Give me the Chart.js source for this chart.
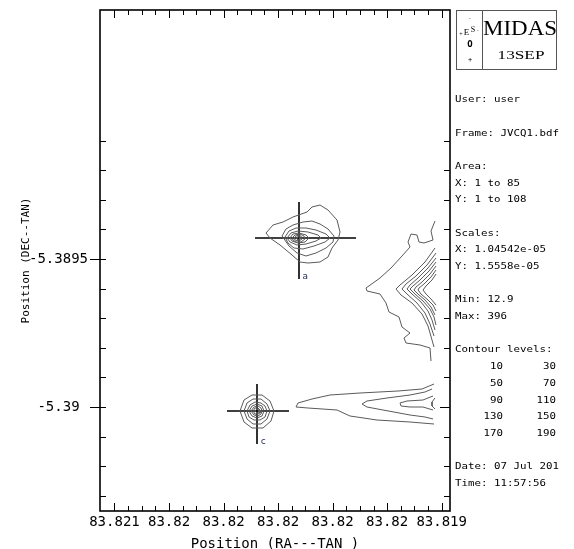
<!DOCTYPE html>
<html>
<head>
<meta charset="utf-8">
<script src="https://cdn.jsdelivr.net/npm/chart.js@4.4.1/dist/chart.umd.min.js"></script>
<style>
html,body{margin:0;padding:0;background:#fff;}
canvas{display:block;}
</style>
</head>
<body>
<canvas id="c" width="574" height="549" style="width:574px;height:549px"></canvas>
<script>
// ---- Axis ticks (frame grid units) and their labels ----
const xMajorTicks = [3.62, 17.26, 30.89, 44.52, 58.16, 71.79, 85.42];
const xTickLabels = ['83.821', '83.82', '83.82', '83.82', '83.82', '83.82', '83.819'];
const xMinorTicks = [7.03, 10.44, 13.85, 20.67, 24.08, 27.49, 34.30, 37.71, 41.12,
                     47.93, 51.34, 54.75, 61.57, 64.98, 68.39, 75.20, 78.61, 82.02];
const yMajorTicks = [26.0, 63.0];
const yTickLabels = ['-5.39', '-5.3895'];
const yMinorTicks = [3.8, 11.2, 18.6, 33.4, 40.8, 48.2, 55.6, 70.4, 77.8, 85.2, 92.6];

// ---- Source "a" contours ----
const contourA1 = [[41.5,69.5],[43.25,71.5],[45.75,72.25],[48.25,73.5],[51.75,74.75],[53,76],[55,76.5],[57,75.25],[59.25,72.75],[60,69.75],[59.5,67.75],[58,65.75],[57,63.5],[55,62.25],[52,62],[50,62.25],[48,64],[45,66.5],[42.5,68.25],[41.5,69.5]];
const contourA2 = [[45.5,68.75],[46.5,70.5],[48.25,71.5],[50.75,72.25],[53,72.5],[55,71.75],[57,70.5],[58.5,68.75],[58.25,67.25],[56.5,65.75],[54,64.5],[51.5,63.75],[49.25,64.5],[47.25,66.25],[45.5,68.75]];
const contourA3 = [[46.25,68.5],[47.25,70],[49,70.75],[51.5,70.75],[54,70.25],[56.5,69.25],[57.5,68.25],[56.25,67.25],[53.5,66.25],[50.75,65.5],[48.5,65.75],[47,67],[46.25,68.5]];
const contourA4 = [[46.75,68.25],[47.75,69.5],[49.5,70],[52,69.75],[54.5,69],[55.25,68.25],[54,67.5],[51.5,66.75],[49.25,66.5],[47.5,67.25],[46.75,68.25]];
const contourA5 = [[47.5,68.25],[48.25,69.25],[49.75,69.5],[51.5,69],[52.25,68.25],[51.25,67.25],[49.5,67],[48,67.5],[47.5,68.25]];
const contourA6 = [[48,68.25],[48.75,69],[50,69.25],[51,68.75],[51.25,68],[50.25,67.25],[49,67.25],[48.25,67.75],[48,68.25]];
const contourA7 = [[48.5,68.25],[49.25,68.9],[50.25,68.75],[50.5,68],[49.75,67.5],[48.75,67.75],[48.5,68.25]];
const contourA8 = [[49,68.25],[49.5,68.6],[50,68.4],[50,68],[49.5,67.75],[49,68.25]];

// ---- Source "c" contours ----
const contourC1 = [[35,25],[36,27.75],[38,29],[40.5,29],[42.5,27.5],[43.5,25],[42.75,22.5],[40.75,20.75],[38,20.75],[36,22.25],[35,25]];
const contourC2 = [[36,25],[36.75,27],[38.25,28],[40.25,28],[41.75,26.75],[42.5,25],[41.75,23],[40.25,21.75],[38.25,21.75],[36.75,23],[36,25]];
const contourC3 = [[36.75,25],[37.5,26.5],[38.75,27.25],[40.25,27],[41.25,26.25],[41.75,25],[41.25,23.5],[40,22.75],[38.5,22.75],[37.25,23.5],[36.75,25]];
const contourC4 = [[37.25,25],[38,26.25],[39.25,26.75],[40.5,26.25],[41,25],[40.5,23.75],[39.25,23.25],[38,23.75],[37.25,25]];
const contourC5 = [[37.75,25],[38.5,26],[39.5,26.25],[40.25,25.75],[40.5,25],[40.25,24.25],[39.5,23.75],[38.5,24],[37.75,25]];
const contourC6 = [[38.25,25],[38.75,25.75],[39.5,25.75],[40,25.25],[40,24.5],[39.5,24.25],[38.75,24.25],[38.25,25]];
const contourC7 = [[38.75,25],[39.25,25.5],[39.75,25.25],[39.75,24.75],[39.25,24.5],[38.75,25]];

// ---- Bright ridge at the right edge ----
const ridgeOuter = [[83.75,72.5],[82.75,70],[83.25,67.75],[81,67],[79.75,67.25],[79.25,69],[77.75,69.25],[77,67.25],[77.5,66],[75.5,63.75],[72.75,60.75],[70,58.25],[66.5,55.75],[66.75,55],[70,54.25],[71.5,52],[72.25,49.75],[74.75,48.5],[75.5,46],[77.5,44.5],[76,43.25],[76.5,42],[80,41.5],[82.5,40.75],[82.75,37.5]];
const ridgeV1 = [[83.75,65.75],[81.25,62.25],[78,59],[75,56.5],[74,55.5],[75.25,54],[78,52],[80.5,49.25],[82,46.25],[83,42.75],[83.5,41]];
const ridgeV2 = [[84,64.5],[81.75,61.5],[79,58.75],[76.5,56.75],[75.5,55.5],[76.75,54.25],[79.25,52],[81.25,49.5],[82.5,46.75],[83.5,43.75]];
const ridgeV3 = [[84,63.25],[82,60.75],[79.5,58.25],[77.5,56.5],[76.75,55.5],[78,54.25],[80.25,52.25],[82,50],[83,47.75],[83.75,45.25]];
const ridgeV4 = [[84,62.25],[82.25,60],[80,57.75],[78.25,56.25],[77.5,55.5],[78.75,54.25],[80.75,52.5],[82.5,50.5],[83.5,48.5],[84,46.5]];
const ridgeV5 = [[84,61.25],[82.5,59.25],[80.5,57.25],[79,56],[78.5,55.25],[79.5,54.25],[81.25,52.75],[82.75,51],[83.75,49]];
const ridgeV6 = [[84,60.25],[82.75,58.5],[81,56.75],[79.75,55.75],[79.5,55.25],[80.25,54.25],[82,52.75],[83.25,51.5],[84,50]];
const ridgeV7 = [[84,59.25],[83,57.75],[81.5,56.25],[80.75,55.25],[81.5,54.25],[82.75,53],[84,51.5]];

// ---- Horizontal tail at the bottom ----
const tailH1 = [[83.5,31.75],[80.5,30.5],[74.5,30],[65,29.5],[57.5,29],[53,28],[49.5,27],[49,26],[52,25.75],[59.25,25.25],[62.5,23.75],[69.25,22.75],[77.5,22.25],[83.5,21.75]];
const tailH2 = [[83,30.5],[81.25,29.75],[77.5,29],[71.75,28.25],[66.75,27.5],[65.5,26.75],[66.75,26],[70.75,25.25],[77.5,24],[81.25,23.5],[83.25,23]];
const tailH3 = [[83.25,28.75],[80.75,27.75],[76.75,27.5],[75,27],[75.25,26.25],[77.5,26],[80.75,26],[83.25,25.25]];
const tailH4 = [[83.75,28.25],[83,27.25],[83,26.25],[83.75,25.5]];

// ---- Cross markers and their names ----
const crossAH = [[38.75,68.25],[64,68.25]];
const crossAV = [[49.75,77.25],[49.75,58]];
const crossCH = [[31.75,25],[47.25,25]];
const crossCV = [[39.25,31.75],[39.25,16.75]];
const markerNames = ['a', 'c'];
const markerX = [50.6, 40.1];
const markerY = [58.6, 17.3];

// ---- Info panel ----
const infoLines = ['User: user', 'Frame: JVCQ1.bdf', 'Area:', 'X: 1 to 85', 'Y: 1 to 108',
                   'Scales:', 'X: 1.04542e-05', 'Y: 1.5558e-05', 'Min: 12.9', 'Max: 396', 'Contour levels:'];
const contourLevels = [10, 30, 50, 70, 90, 110, 130, 150, 170, 190];
const footerLines = ['Date: 07 Jul 201', 'Time: 11:57:56'];

const contours = [contourA1, contourA2, contourA3, contourA4, contourA5, contourA6, contourA7, contourA8,
                  contourC1, contourC2, contourC3, contourC4, contourC5, contourC6, contourC7,
                  ridgeOuter, ridgeV1, ridgeV2, ridgeV3, ridgeV4, ridgeV5, ridgeV6, ridgeV7,
                  tailH1, tailH2, tailH3, tailH4];
const crosses = [crossAH, crossAV, crossCH, crossCV];

const toPts = arr => arr.map(p => ({x: p[0], y: p[1]}));
const datasets = [];
contours.forEach(c => datasets.push({data: toPts(c), showLine: true, borderColor: '#5a5a5a', borderWidth: 1, pointRadius: 0, tension: 0, fill: false}));
crosses.forEach(c => datasets.push({data: toPts(c), showLine: true, borderColor: '#000', borderWidth: 1.6, pointRadius: 0, tension: 0, fill: false}));

const MONO = '"DejaVu Sans Mono", "Liberation Mono", monospace';
const SERIF = '"Liberation Serif", "DejaVu Serif", serif';

function wideText(ctx, str, x, y, align, size, charW, family) {
  ctx.save();
  ctx.font = size + 'px ' + family;
  const w = ctx.measureText('M').width;
  ctx.translate(x, y);
  ctx.scale(charW / w, 1);
  ctx.textAlign = align;
  ctx.textBaseline = 'middle';
  ctx.fillStyle = '#000';
  ctx.fillText(str, 0, 0);
  ctx.restore();
}
function fitText(ctx, str, cx, cy, size, targetW, family) {
  ctx.save();
  ctx.font = size + 'px ' + family;
  const w = ctx.measureText(str).width;
  ctx.translate(cx, cy);
  ctx.scale(targetW / w, 1);
  ctx.textAlign = 'center';
  ctx.textBaseline = 'middle';
  ctx.fillStyle = '#000';
  ctx.fillText(str, 0, 0);
  ctx.restore();
}

const framePlugin = {
  id: 'midasFrame',
  afterDraw(chart) {
    const ctx = chart.ctx, a = chart.chartArea, xs = chart.scales.x, ys = chart.scales.y;
    ctx.save();
    // frame
    ctx.strokeStyle = '#000';
    ctx.lineWidth = 1.6;
    ctx.strokeRect(a.left, a.top, a.right - a.left, a.bottom - a.top);
    ctx.lineWidth = 1;
    const seg = (x1, y1, x2, y2) => { ctx.beginPath(); ctx.moveTo(x1, y1); ctx.lineTo(x2, y2); ctx.stroke(); };
    xMinorTicks.forEach(v => { const p = Math.round(xs.getPixelForValue(v)) + 0.5; seg(p, a.bottom, p, a.bottom - 5); seg(p, a.top, p, a.top + 5); });
    xMajorTicks.forEach(v => { const p = Math.round(xs.getPixelForValue(v)) + 0.5; seg(p, a.bottom, p, a.bottom - 8); seg(p, a.top, p, a.top + 8); });
    yMinorTicks.forEach(v => { const p = Math.round(ys.getPixelForValue(v)) + 0.5; seg(a.left, p, a.left + 6, p); seg(a.right, p, a.right - 6, p); });
    yMajorTicks.forEach(v => { const p = Math.round(ys.getPixelForValue(v)) + 0.5; seg(a.left - 10, p, a.left + 6, p); seg(a.right, p, a.right - 10, p); });

    // marker names
    ctx.fillStyle = '#1c2a5a';
    ctx.font = '9px ' + MONO;
    ctx.textAlign = 'left';
    ctx.textBaseline = 'middle';
    markerNames.forEach((n, i) => ctx.fillText(n, xs.getPixelForValue(markerX[i]), ys.getPixelForValue(markerY[i])));

    // MIDAS / ESO box
    ctx.strokeStyle = '#555';
    ctx.lineWidth = 1;
    ctx.strokeRect(456.5, 10.5, 100, 59);
    seg(482.5, 10.5, 482.5, 69.5);
    fitText(ctx, 'MIDAS', 520, 30, 20, 74, SERIF);
    fitText(ctx, '13SEP', 521, 56, 12.5, 47, SERIF);
    ctx.fillStyle = '#000';
    ctx.textAlign = 'center';
    ctx.textBaseline = 'middle';
    ctx.font = '7px ' + SERIF; ctx.fillText('·', 470, 19);
    ctx.font = '6px ' + SERIF; ctx.fillText('+', 461, 34);
    ctx.font = '9px ' + SERIF; ctx.fillText('E', 466.5, 33);
    ctx.font = '8px ' + SERIF; ctx.fillText('S', 473, 30);
    ctx.font = '7px ' + SERIF; ctx.fillText('·', 478, 31);
    ctx.font = 'bold 9px ' + MONO; ctx.fillText('O', 470, 45);
    ctx.font = '7px ' + MONO; ctx.fillText('+', 470, 60);

    // info lines
    const infoY = [100, 134, 167, 184, 200, 234, 250, 267, 300, 317, 350];
    infoLines.forEach((t, i) => wideText(ctx, t, 455, infoY[i], 'left', 9, 6.5, MONO));
    const rowY = [367, 384, 400.5, 417, 434];
    for (let r = 0; r < 5; r++) {
      wideText(ctx, String(contourLevels[2 * r]), 503, rowY[r], 'right', 9, 6.5, MONO);
      wideText(ctx, String(contourLevels[2 * r + 1]), 556, rowY[r], 'right', 9, 6.5, MONO);
    }
    wideText(ctx, footerLines[0], 455, 467, 'left', 9, 6.5, MONO);
    wideText(ctx, footerLines[1], 455, 484, 'left', 9, 6.5, MONO);
    ctx.restore();
  }
};

new Chart(document.getElementById('c').getContext('2d'), {
  type: 'scatter',
  data: {datasets},
  options: {
    responsive: false,
    animation: false,
    devicePixelRatio: 1,
    layout: {padding: {left: 0, right: 124, top: 10, bottom: 0}},
    plugins: {legend: {display: false}, tooltip: {enabled: false}},
    scales: {
      x: {
        type: 'linear', min: 0, max: 87.5,
        grid: {display: false, drawTicks: false}, border: {display: false},
        afterBuildTicks: s => { s.ticks = xMajorTicks.map(v => ({value: v})); },
        afterFit: s => { s.height = 38; s.paddingLeft = 0; s.paddingRight = 0; },
        ticks: {autoSkip: false, maxRotation: 0, minRotation: 0, padding: 3, color: '#000',
                font: {family: MONO, size: 14}, callback: (v, i) => xTickLabels[i]},
        title: {display: true, text: 'Position (RA---TAN )', color: '#000',
                font: {family: MONO, size: 14, lineHeight: 1}, padding: {top: 0, bottom: -2.5}}
      },
      y: {
        type: 'linear', min: 0, max: 125.25,
        grid: {display: false, drawTicks: false}, border: {display: false},
        afterBuildTicks: s => { s.ticks = yMajorTicks.map(v => ({value: v})); },
        afterFit: s => { s.width = 100; s.paddingTop = 0; s.paddingBottom = 0; },
        ticks: {autoSkip: false, crossAlign: 'center', padding: 12, color: '#000',
                font: {family: MONO, size: 14}, callback: (v, i) => yTickLabels[i]},
        title: {display: true, text: 'Position (DEC--TAN)', color: '#000',
                font: {family: MONO, size: 11, lineHeight: 1.2}, padding: {top: 19.4, bottom: 0}}
      }
    }
  },
  plugins: [framePlugin]
});
</script>
</body>
</html>
